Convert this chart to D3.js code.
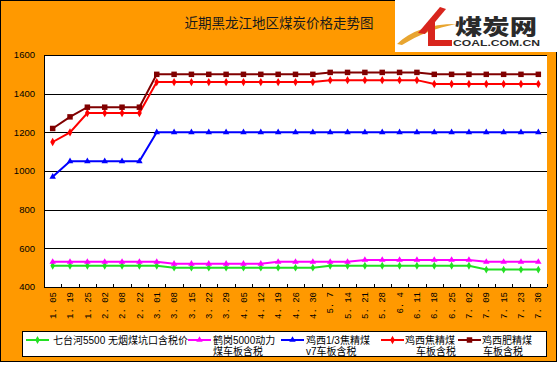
<!DOCTYPE html>
<html>
<head>
<meta charset="utf-8">
<script src="https://cdn.jsdelivr.net/npm/d3@7"></script>
<style>
  html, body { margin: 0; padding: 0; background: #fff; }
  svg { display: block; }
</style>
</head>
<body>
<svg id="chart" width="560" height="366"></svg>
<script>
// ---- data ----
const categories = ["1. 05","1. 19","1. 25","2. 02","2. 08","2. 22","3. 01","3. 08","3. 15","3. 22","3. 29","4. 05","4. 12","4. 19","4. 26","4. 30","5. 7","5. 14","5. 21","5. 28","6. 4","6. 11","6. 18","6. 25","7. 02","7. 09","7. 15","7. 23","7. 30"];
const seriesNames = ["七台河5500 无烟煤坑口含税价", "鹤岗5000动力煤车板含税", "鸡西1/3焦精煤v7车板含税", "鸡西焦精煤车板含税", "鸡西肥精煤车板含税"];
const qitaihe = [510,510,510,510,510,510,510,500,500,500,500,500,500,500,500,500,510,510,510,510,510,510,510,510,510,490,490,490,490];
const hegang  = [530,530,530,530,530,530,530,520,520,520,520,520,520,530,530,530,530,530,540,540,540,540,540,540,540,530,530,530,530];
const jixi13  = [970,1050,1050,1050,1050,1050,1200,1200,1200,1200,1200,1200,1200,1200,1200,1200,1200,1200,1200,1200,1200,1200,1200,1200,1200,1200,1200,1200,1200];
const jixiJiao= [1150,1200,1300,1300,1300,1300,1460,1460,1460,1460,1460,1460,1460,1460,1460,1460,1470,1470,1470,1470,1470,1470,1450,1450,1450,1450,1450,1450,1450];
const jixiFei = [1220,1280,1330,1330,1330,1330,1500,1500,1500,1500,1500,1500,1500,1500,1500,1500,1510,1510,1510,1510,1510,1510,1500,1500,1500,1500,1500,1500,1500];
const yTicks = [400,600,800,1000,1200,1400,1600];
const title = "近期黑龙江地区煤炭价格走势图";

// ---- layout ----
const svg = d3.select("#chart");
const orange = "#FF9900";
const plot = {left: 44, right: 547, top: 55, bottom: 287};
const cjk = "'Liberation Sans', 'Noto Sans CJK SC', sans-serif";

// background
svg.append("rect").attr("x", 0.5).attr("y", 0.5).attr("width", 556).attr("height", 361)
  .attr("fill", orange).attr("stroke", "#000").attr("stroke-width", 1);

// logo area
svg.append("rect").attr("x", 395).attr("y", 0).attr("width", 165).attr("height", 52).attr("fill", "#fff");
const logo = svg.append("g");
logo.append("path").attr("d", "M397,44 C410,31 430,24 456,24 C436,28 418,35 402,45 Z").attr("fill", "#E8A530");
logo.append("path").attr("d", "M418,33 L440,7 L446,9 L425,34 Z").attr("fill", "#D8251D");
logo.append("path").attr("d", "M428,23 L435,20 L435,40 L452,40 L452,46 L428,46 Z").attr("fill", "#D8251D");
logo.append("text").attr("x", 455).attr("y", 33.5).text("煤炭网").attr("fill", "#2a2a2a")
  .attr("font-family", cjk).attr("font-weight", 900).attr("font-size", 21)
  .attr("textLength", 82).attr("lengthAdjust", "spacingAndGlyphs");
logo.append("text").attr("x", 453).attr("y", 46).text("COAL.COM.CN").attr("fill", "#2a2a2a")
  .attr("font-family", "Liberation Sans").attr("font-weight", "bold").attr("font-size", 9)
  .attr("textLength", 87).attr("lengthAdjust", "spacingAndGlyphs");

// title
svg.append("text").attr("x", 279).attr("y", 27.5).attr("text-anchor", "middle").text(title)
  .attr("font-family", cjk).attr("font-size", 13.5).attr("fill", "#1a1a1a");

// scales
const x = d3.scaleBand().domain(categories).range([plot.left, plot.right]).padding(0);
const y = d3.scaleLinear().domain([400, 1600]).range([plot.bottom, plot.top]);

// plot bg
svg.append("rect").attr("x", plot.left).attr("y", plot.top)
  .attr("width", plot.right - plot.left).attr("height", plot.bottom - plot.top).attr("fill", "#fff");

// gridlines
svg.append("g").selectAll("line").data(yTicks.filter(d => d > 400)).join("line")
  .attr("x1", plot.left).attr("x2", plot.right)
  .attr("y1", d => Math.round(y(d)) + 0.5).attr("y2", d => Math.round(y(d)) + 0.5)
  .attr("stroke", "#000").attr("stroke-width", 1);

// y axis labels
svg.append("g").selectAll("text").data(yTicks).join("text")
  .attr("x", 35).attr("y", d => y(d)).attr("dy", "0.35em").attr("text-anchor", "end")
  .text(d => d).attr("font-family", "Liberation Sans").attr("font-size", 9.5).attr("fill", "#000");

// axes lines
svg.append("line").attr("x1", plot.left + 0.5).attr("x2", plot.left + 0.5).attr("y1", plot.top).attr("y2", plot.bottom + 0.5)
  .attr("stroke", "#000");
svg.append("line").attr("x1", plot.left).attr("x2", plot.right).attr("y1", plot.bottom + 0.5).attr("y2", plot.bottom + 0.5)
  .attr("stroke", "#000");
// x ticks at band boundaries (inward)
const bounds = categories.map(c => x(c)).concat([plot.right]);
svg.append("g").selectAll("line").data(bounds).join("line")
  .attr("x1", d => Math.round(d) + 0.5).attr("x2", d => Math.round(d) + 0.5)
  .attr("y1", plot.bottom - 3).attr("y2", plot.bottom)
  .attr("stroke", "#000");

// x labels
svg.append("g").selectAll("text").data(categories).join("text")
  .attr("transform", d => `translate(${x(d) + x.bandwidth() / 2},292) rotate(-90)`)
  .attr("dy", "0.35em").attr("text-anchor", "end").text(d => d)
  .attr("font-family", "Liberation Mono").attr("font-size", 9).attr("fill", "#000");

// series
const series = [
  {name: seriesNames[0], values: qitaihe, color: "#22E022", symbol: d3.symbolDiamond, size: 18},
  {name: seriesNames[1], values: hegang, color: "#FF00FF", symbol: d3.symbolTriangle, size: 18},
  {name: seriesNames[2], values: jixi13, color: "#0000FF", symbol: d3.symbolTriangle, size: 18},
  {name: seriesNames[3], values: jixiJiao, color: "#FF0000", symbol: d3.symbolDiamond, size: 20},
  {name: seriesNames[4], values: jixiFei, color: "#800000", symbol: d3.symbolSquare, size: 30}
];
const line = d3.line().x((d, i) => x(categories[i]) + x.bandwidth() / 2).y(d => y(d));
series.forEach(s => {
  const g = svg.append("g");
  g.append("path").attr("d", line(s.values)).attr("fill", "none").attr("stroke", s.color).attr("stroke-width", 2);
  g.selectAll("path.m").data(s.values).join("path").attr("class", "m")
    .attr("transform", (d, i) => `translate(${x(categories[i]) + x.bandwidth() / 2},${y(d)})`)
    .attr("d", d3.symbol().type(s.symbol).size(s.size)).attr("fill", s.color);
});

// legend
svg.append("rect").attr("x", 22.5).attr("y", 331.5).attr("width", 524).attr("height", 25)
  .attr("fill", "#fff").attr("stroke", "#000");
const legendItems = [
  {s: series[0], x0: 26, lines: ["七台河5500 无烟煤坑口含税价"], tx: 53, tx2: 53},
  {s: series[1], x0: 188, lines: ["鹤岗5000动力", "煤车板含税"], tx: 213, tx2: 213},
  {s: series[2], x0: 281, lines: ["鸡西1/3焦精煤", "v7车板含税"], tx: 306, tx2: 306},
  {s: series[3], x0: 381, lines: ["鸡西焦精煤", "车板含税"], tx: 405, tx2: 416},
  {s: series[4], x0: 458, lines: ["鸡西肥精煤", "车板含税"], tx: 482, tx2: 483}
];
legendItems.forEach(it => {
  const g = svg.append("g");
  g.append("line").attr("x1", it.x0).attr("x2", it.x0 + 23).attr("y1", 340).attr("y2", 340)
    .attr("stroke", it.s.color).attr("stroke-width", 2);
  g.append("path").attr("transform", `translate(${it.x0 + 11.5},340)`)
    .attr("d", d3.symbol().type(it.s.symbol).size(it.s.size)).attr("fill", it.s.color);
  it.lines.forEach((txt, k) => {
    g.append("text").attr("x", k === 0 ? it.tx : it.tx2).attr("y", 343.5 + k * 11.5).text(txt)
      .attr("font-family", cjk).attr("font-size", 10).attr("fill", "#000");
  });
});
</script>
</body>
</html>
